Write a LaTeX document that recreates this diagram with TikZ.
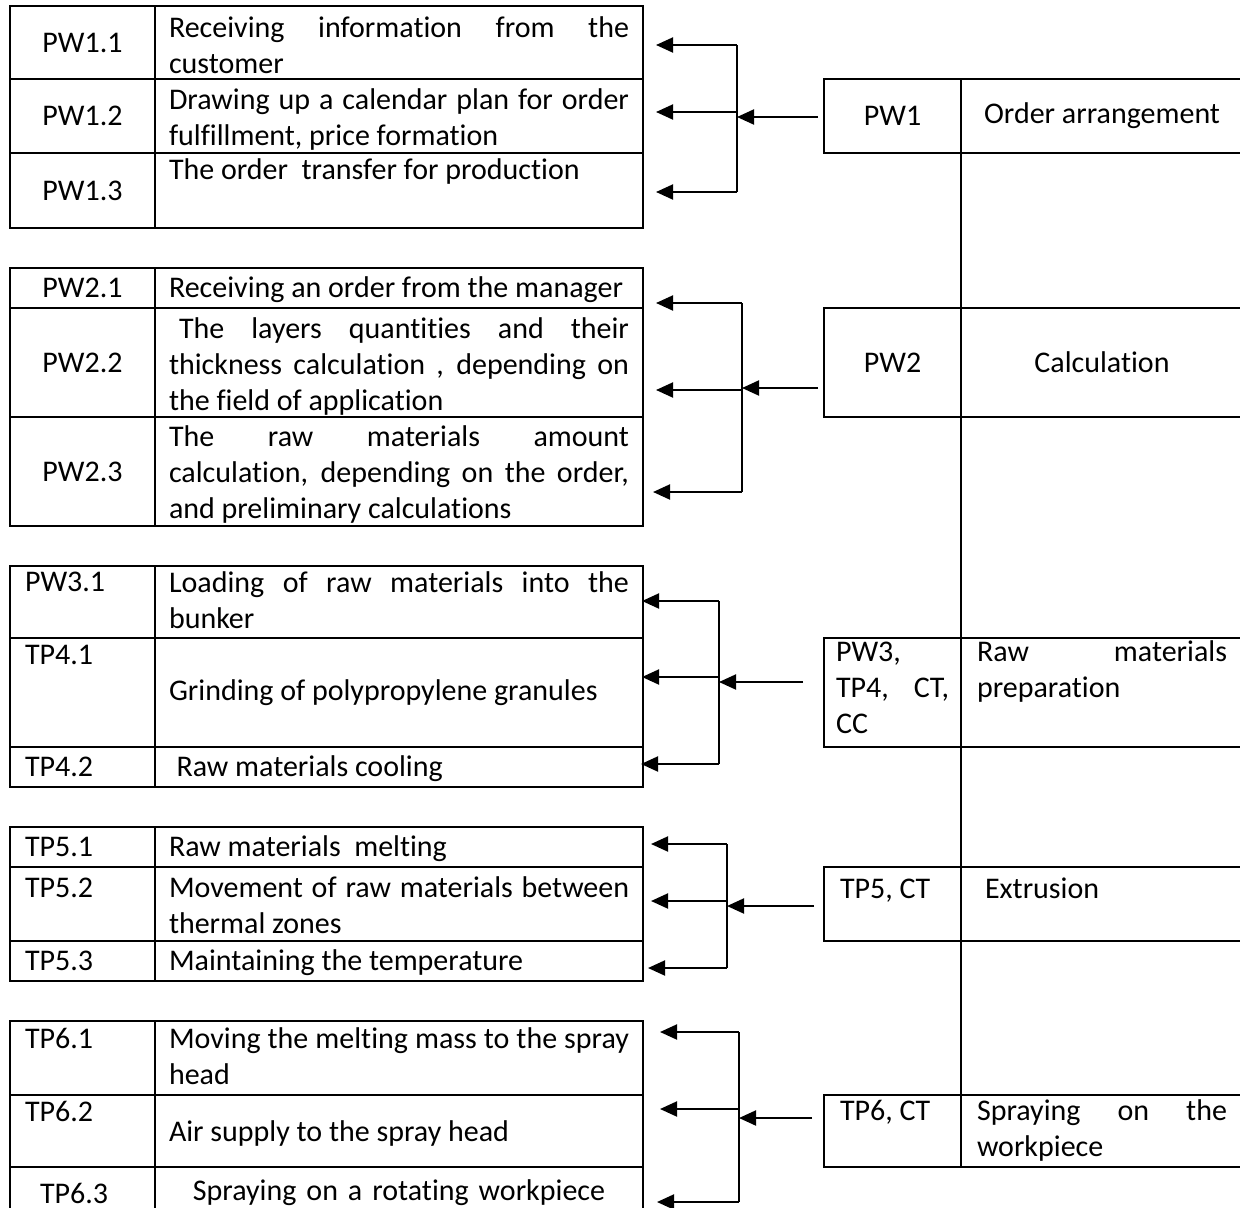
\documentclass[tikz,border=0pt]{standalone}
\usepackage{fontspec}
\setmainfont{Carlito}[Ligatures=NoCommon]
\usepackage{tikz}
\usetikzlibrary{arrows.meta,positioning}
\tikzset{
  basecell/.style={rectangle,draw=black,line width=0.6pt,inner sep=0pt,
                   outer sep=0pt,font=\fontsize{12}{14.4}\selectfont},
  idcell/.style={basecell,minimum width=58pt,align=center},
  idleft/.style={basecell,minimum width=58pt,text width=46pt,
                 inner xsep=6pt,align=left},
  txtcell/.style={basecell,minimum width=195.2pt,text width=184pt,
                  inner xsep=5.6pt,align=justify},
  oneline/.style={text height=11.9pt,text depth=4.1pt},
  opid/.style={basecell,minimum width=54.8pt,align=center},
  opidleft/.style={basecell,minimum width=54.8pt,text width=45.2pt,
                   inner xsep=4.8pt,align=justify},
  optxt/.style={basecell,minimum width=112.8pt,align=center},
  optxtleft/.style={basecell,minimum width=112.8pt,text width=100pt,
                    inner xsep=6.4pt,align=justify},
  arr/.style={-{Triangle[length=6.8pt,width=6pt]},line width=0.8pt},
  busline/.style={line width=0.5pt}
}
\begin{document}
\begin{tikzpicture}[x=0.4pt,y=-0.4pt]
  \fill[white] (0,0) rectangle (1240,1207);
  \useasboundingbox (0,0) rectangle (1240,1207);

  \node[idcell,anchor=north west,minimum height=29.2pt] (a11) at (10,6) {PW1.1};
  \node[txtcell,text height=12.4pt,text depth=16.8pt,right=0pt of a11] (t11)
      {Receiving information from the\linebreak customer};
  \node[idcell,minimum height=29.6pt,below=0pt of a11] (a12) {PW1.2};
  \node[txtcell,text height=12pt,text depth=17.6pt,right=0pt of a12] (t12)
      {Drawing up a calendar plan for order\linebreak fulfillment, price formation};
  \node[idcell,minimum height=30pt,below=0pt of a12] (a13) {PW1.3};
  \node[txtcell,text height=10.7pt,text depth=19.3pt,right=0pt of a13] (t13)
      {The order~ transfer for production};

  \node[idcell,oneline,below=16pt of a13] (a21) {PW2.1};
  \node[txtcell,oneline,right=0pt of a21] (t21)
      {Receiving an order from the manager};
  \node[idcell,minimum height=43.6pt,below=0pt of a21] (a22) {PW2.2};
  \node[txtcell,text height=12.2pt,text depth=31.4pt,right=0pt of a22] (t22)
      {\hspace*{4pt}The layers quantities and their\linebreak
       thickness calculation , depending on\linebreak the field of application};
  \node[idcell,minimum height=43.6pt,below=0pt of a22] (a23) {PW2.3};
  \node[txtcell,text height=11.6pt,text depth=32pt,right=0pt of a23] (t23)
      {The raw materials amount\linebreak
       calculation, depending on the order,\linebreak and preliminary calculations};

  \node[idleft,text height=10pt,text depth=18.8pt,below=16pt of a23] (a31) {PW3.1};
  \node[txtcell,text height=10.6pt,text depth=18.2pt,right=0pt of a31] (t31)
      {Loading of raw materials into the\linebreak bunker};
  \node[idleft,text height=10.4pt,text depth=33.2pt,below=0pt of a31] (a32) {TP4.1};
  \node[txtcell,minimum height=43.6pt,right=0pt of a32] (t32)
      {Grinding of polypropylene granules};
  \node[idleft,oneline,below=0pt of a32] (a33) {TP4.2};
  \node[txtcell,oneline,right=0pt of a33] (t33)
      {\hspace*{3pt}Raw materials cooling};

  \node[idleft,oneline,below=16pt of a33] (a41) {TP5.1};
  \node[txtcell,oneline,right=0pt of a41] (t41)
      {Raw materials~ melting};
  \node[idleft,text height=12pt,text depth=17.6pt,below=0pt of a41] (a42) {TP5.2};
  \node[txtcell,text height=12pt,text depth=17.6pt,right=0pt of a42] (t42)
      {Movement of raw materials between\linebreak thermal zones};
  \node[idleft,oneline,below=0pt of a42] (a43) {TP5.3};
  \node[txtcell,oneline,right=0pt of a43] (t43)
      {Maintaining the temperature};

  \node[idleft,text height=10.8pt,text depth=18.8pt,below=16pt of a43] (a51) {TP6.1};
  \node[txtcell,text height=10.8pt,text depth=18.8pt,right=0pt of a51] (t51)
      {Moving the melting mass to the spray\linebreak head};
  \node[idleft,text height=10.4pt,text depth=18.4pt,below=0pt of a51] (a52) {TP6.2};
  \node[txtcell,text height=18.4pt,text depth=10.4pt,right=0pt of a52] (t52)
      {Air supply to the spray head};
  \node[idleft,minimum height=20.8pt,below=0pt of a52] (a53) {\hspace*{6pt}TP6.3};
  \node[txtcell,align=center,minimum height=20.8pt,right=0pt of a53] (t53)
      {Spraying on a rotating workpiece};

  \node[opid,minimum height=29.6pt,right=72.4pt of t12] (pw1) {PW1};
  \node[optxt,minimum height=29.6pt,right=0pt of pw1] (pw1t) {Order arrangement};
  \node[opid,minimum height=43.6pt,right=72.4pt of t22] (pw2) {PW2};
  \node[optxt,minimum height=43.6pt,right=0pt of pw2] (pw2t) {Calculation};
  \node[opidleft,text height=9.2pt,text depth=34.4pt,right=72.4pt of t32] (pw3)
      {PW3,\\TP4, CT,\linebreak CC};
  \node[optxtleft,text height=9.2pt,text depth=34.4pt,right=0pt of pw3] (pw3t)
      {Raw materials\linebreak preparation};
  \node[opidleft,text height=12.4pt,text depth=17.2pt,right=72.4pt of t42] (tp5)
      {\hspace*{1.6pt}TP5, CT};
  \node[optxtleft,text height=12.4pt,text depth=17.2pt,right=0pt of tp5] (tp5t)
      {\hspace*{3.2pt}Extrusion};
  \node[opidleft,text height=10pt,text depth=18.8pt,right=72.4pt of t52] (tp6)
      {\hspace*{1.6pt}TP6, CT};
  \node[optxtleft,text height=10pt,text depth=18.8pt,right=0pt of tp6] (tp6t)
      {Spraying on the\linebreak workpiece};

  \draw[line width=0.6pt] (pw1.south east) -- (tp6.north east);

  \coordinate (j1) at (737,117);
  \coordinate (j1a) at (737,45);
  \coordinate (j1b) at (737,112);
  \coordinate (j1c) at (737,192);
  \draw[busline] (j1a) -- (j1c);
  \draw[arr,shorten >=5.2pt] (j1a) -- (t11.east |- j1a);
  \draw[arr,shorten >=5.2pt] (j1b) -- (t12.east |- j1b);
  \draw[arr,shorten >=5.2pt] (j1c) -- (t13.east |- j1c);
  \draw[arr,shorten <=2.4pt] (pw1.west |- j1) -- (j1);

  \coordinate (j2) at (742,388);
  \coordinate (j2a) at (742,303);
  \coordinate (j2b) at (742,390);
  \coordinate (j2c) at (742,492);
  \draw[busline] (j2a) -- (j2c);
  \draw[arr,shorten >=5.2pt] (j2a) -- (t21.east |- j2a);
  \draw[arr,shorten >=5.2pt] (j2b) -- (t22.east |- j2b);
  \draw[arr,shorten >=4pt] (j2c) -- (t23.east |- j2c);
  \draw[arr,shorten <=2.4pt] (pw2.west |- j2) -- (j2);

  \coordinate (j3) at (719,682);
  \coordinate (j3a) at (719,601);
  \coordinate (j3b) at (719,677);
  \coordinate (j3c) at (719,764);
  \draw[busline] (j3a) -- (j3c);
  \draw[arr,shorten >=-0.4pt] (j3a) -- (t31.east |- j3a);
  \draw[arr,shorten >=-0.4pt] (j3b) -- (t32.east |- j3b);
  \draw[arr,shorten >=-0.8pt] (j3c) -- (t33.east |- j3c);
  \draw[arr,shorten <=8.4pt] (pw3.west |- j3) -- (j3);

  \coordinate (j4) at (727,906);
  \coordinate (j4a) at (727,844);
  \coordinate (j4b) at (727,901);
  \coordinate (j4c) at (727,968);
  \draw[busline] (j4a) -- (j4c);
  \draw[arr,shorten >=3.2pt] (j4a) -- (t41.east |- j4a);
  \draw[arr,shorten >=3.2pt] (j4b) -- (t42.east |- j4b);
  \draw[arr,shorten >=2pt] (j4c) -- (t43.east |- j4c);
  \draw[arr,shorten <=4pt] (tp5.west |- j4) -- (j4);

  \coordinate (j5) at (739,1118);
  \coordinate (j5a) at (739,1032);
  \coordinate (j5b) at (739,1109);
  \coordinate (j5c) at (739,1202);
  \draw[busline] (j5a) -- (j5c);
  \draw[arr,shorten >=6.8pt] (j5a) -- (t51.east |- j5a);
  \draw[arr,shorten >=6.8pt] (j5b) -- (t52.east |- j5b);
  \draw[arr,shorten >=5.6pt] (j5c) -- (t53.east |- j5c);
  \draw[arr,shorten <=4.8pt] (tp6.west |- j5) -- (j5);
\end{tikzpicture}
\end{document}
